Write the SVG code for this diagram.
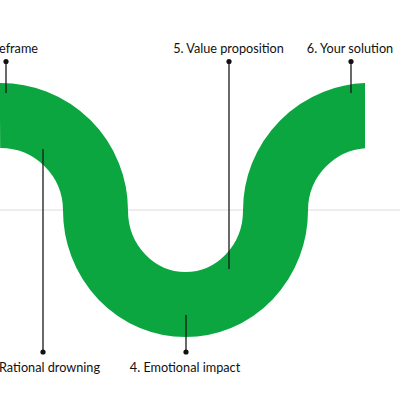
<svg xmlns="http://www.w3.org/2000/svg" width="400" height="400" viewBox="0 0 400 400">
<style>
.lbl{font-family:Lato,"Open Sans",sans-serif;font-size:12.7px;fill:#111;}
.ld{stroke:#1a1a1a;stroke-width:1.3;fill:none;}
.dot{fill:#111;}
</style>
<defs>
<clipPath id="cut"><rect x="0" y="0" width="365" height="400"/></clipPath>
</defs>
<rect width="400" height="400" fill="#fff"/>
<line x1="0" y1="210" x2="400" y2="210" stroke="#dcdcdc" stroke-width="1"/>
<g id="band" clip-path="url(#cut)">
<path d="M 0 115.5 A 95 95 0 0 1 95.5 210.5 A 90 94 0 0 0 275.5 210.5 A 94.5 95 0 0 1 370 115.5 L 380 115.5" fill="none" stroke="#0ca641" stroke-width="65"/>
</g>
<g id="connectors">
<line class="ld" x1="6" y1="62" x2="6" y2="93"/>
<line class="ld" x1="43" y1="149" x2="43" y2="352"/>
<line class="ld" x1="186" y1="315" x2="186" y2="352"/>
<line class="ld" x1="229" y1="61" x2="229" y2="269"/>
<line class="ld" x1="351" y1="61" x2="351" y2="93"/>
</g>
<g id="n1"><circle class="dot" cx="6" cy="61.5" r="2.6"/><text class="lbl" x="-1" y="53">eframe</text></g>
<g id="n2"><circle class="dot" cx="43" cy="352" r="2.6"/><text class="lbl" x="-1" y="372">Rational drowning</text></g>
<g id="n4"><circle class="dot" cx="186" cy="352" r="2.6"/><text class="lbl" x="185" y="372" text-anchor="middle">4. Emotional impact</text></g>
<g id="n5"><circle class="dot" cx="229" cy="61.5" r="2.6"/><text class="lbl" x="228.5" y="53" text-anchor="middle">5. Value proposition</text></g>
<g id="n6"><circle class="dot" cx="351" cy="61.5" r="2.6"/><text class="lbl" x="350" y="53" text-anchor="middle">6. Your solution</text></g>
</svg>
